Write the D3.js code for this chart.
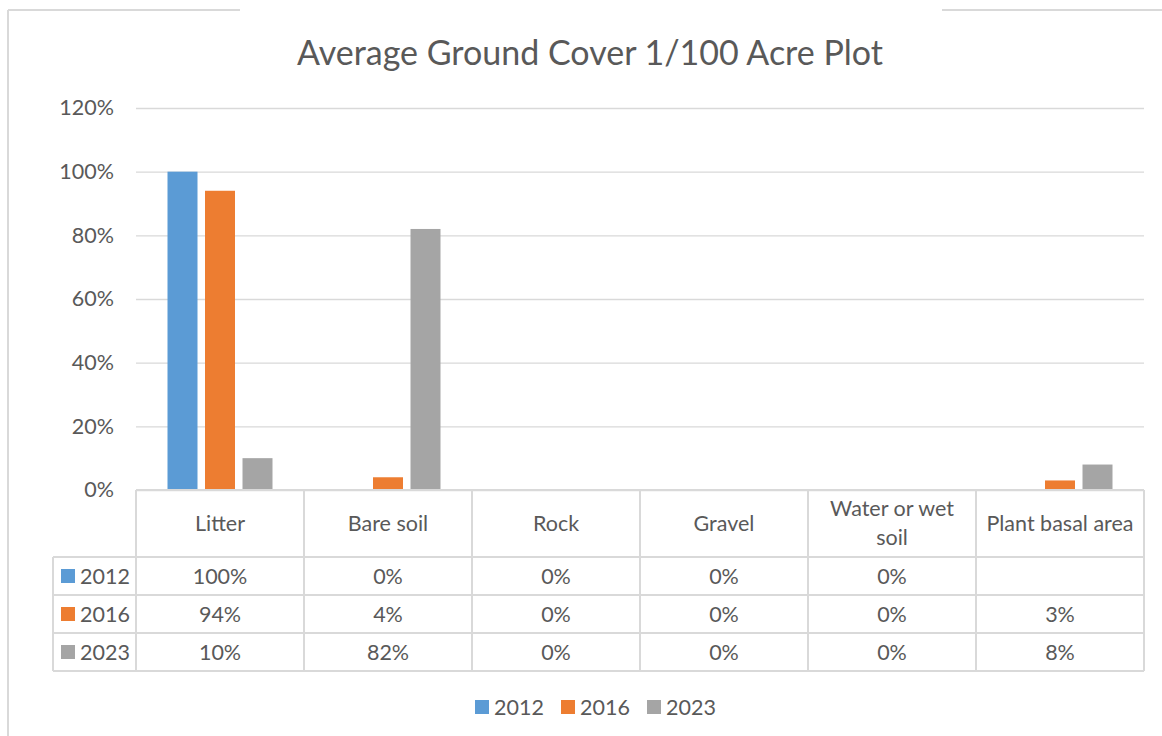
<!DOCTYPE html>
<html>
<head>
<meta charset="utf-8">
<script src="https://cdn.jsdelivr.net/npm/d3@7"></script>
<style>
  body { margin: 0; background: #fff; }
  svg { display: block; font-family: Lato, "Open Sans", sans-serif; }
</style>
</head>
<body>
<svg id="chart" width="1162" height="736"></svg>
<script>
// chart data
var categories = ["Litter", "Bare soil", "Rock", "Gravel", "Water or wet soil", "Plant basal area"];
var seriesNames = ["2012", "2016", "2023"];
var values2012 = [1.00, 0, 0, 0, 0, null];
var values2016 = [0.94, 0.04, 0, 0, 0, 0.03];
var values2023 = [0.10, 0.82, 0, 0, 0, 0.08];
var yTicks = [0, 0.2, 0.4, 0.6, 0.8, 1.0, 1.2];

var series = [values2012, values2016, values2023];
var colors = ["#5B9BD5", "#ED7D31", "#A5A5A5"];
var textColor = "#595959", lineColor = "#d9d9d9";
var fs = "21.5px";

var svg = d3.select("#chart");

// frame of the chart box (top line broken where the caption sits)
var frame = svg.append("g").attr("stroke", lineColor).attr("stroke-width", 2);
frame.append("line").attr("x1", 8).attr("y1", 10).attr("x2", 8).attr("y2", 736);
frame.append("line").attr("x1", 8).attr("y1", 10).attr("x2", 240).attr("y2", 10);
frame.append("line").attr("x1", 942).attr("y1", 10).attr("x2", 1162).attr("y2", 10);

svg.append("text")
  .attr("x", 590).attr("y", 65)
  .attr("text-anchor", "middle")
  .attr("fill", textColor)
  .style("font-size", "34px")
  .text("Average Ground Cover 1/100 Acre Plot");

var x = d3.scaleBand().domain(categories).range([136, 1144]);
var y = d3.scaleLinear().domain([0, 1.2]).range([490, 108]);
var inner = d3.scaleBand().domain(seriesNames).range([0, x.bandwidth()]).paddingInner(0.2).paddingOuter(0.84);

// gridlines + y labels
var yAxis = d3.axisLeft(y).tickValues(yTicks).tickFormat(d3.format(".0%")).tickSize(-(1144 - 136)).tickPadding(22);
var ga = svg.append("g").attr("transform", "translate(136,0)").call(yAxis);
ga.select(".domain").remove();
ga.selectAll(".tick line").attr("stroke", lineColor).attr("stroke-width", 1.3);
ga.selectAll(".tick text").attr("fill", textColor).style("font-size", fs).style("font-family", "Lato, sans-serif");

// bars
series.forEach(function(vals, si) {
  svg.append("g").selectAll("rect")
    .data(vals.map(function(v, i) { return { cat: categories[i], v: v }; }).filter(function(d) { return d.v; }))
    .enter().append("rect")
    .attr("x", function(d) { return x(d.cat) + inner(seriesNames[si]); })
    .attr("width", inner.bandwidth())
    .attr("y", function(d) { return y(d.v); })
    .attr("height", function(d) { return y(0) - y(d.v); })
    .attr("fill", colors[si]);
});

// data table
var rowTop = 557, rowH = 38, tableLeft = 53;
var tbl = svg.append("g").attr("stroke", lineColor).attr("stroke-width", 2).attr("fill", "none");
x.domain().forEach(function(c) {
  tbl.append("line").attr("x1", x(c)).attr("x2", x(c)).attr("y1", 490).attr("y2", rowTop + rowH * 3);
});
tbl.append("line").attr("x1", 1144).attr("x2", 1144).attr("y1", 490).attr("y2", rowTop + rowH * 3);
tbl.append("line").attr("x1", 136).attr("x2", 1144).attr("y1", 490).attr("y2", 490);
tbl.append("line").attr("x1", tableLeft).attr("x2", tableLeft).attr("y1", rowTop).attr("y2", rowTop + rowH * 3);
for (var r = 0; r <= 3; r++) {
  tbl.append("line").attr("x1", tableLeft).attr("x2", 1144).attr("y1", rowTop + rowH * r).attr("y2", rowTop + rowH * r);
}

// header labels
svg.append("g").selectAll("text")
  .data(categories).enter().append("text")
  .attr("text-anchor", "middle")
  .attr("fill", textColor)
  .style("font-size", fs)
  .attr("x", function(d) { return x(d) + x.bandwidth() / 2; })
  .attr("y", 531)
  .each(function(d) {
    var t = d3.select(this);
    if (d === "Water or wet soil") {
      t.append("tspan").attr("x", x(d) + x.bandwidth() / 2).attr("y", 516).text("Water or wet");
      t.append("tspan").attr("x", x(d) + x.bandwidth() / 2).attr("y", 545).text("soil");
    } else {
      t.text(d);
    }
  });

var fmt = d3.format(".0%");
series.forEach(function(vals, si) {
  var cy = rowTop + rowH * si + rowH / 2 + 7.5;
  svg.append("rect").attr("x", 61).attr("y", cy - 14.5).attr("width", 14).attr("height", 14).attr("fill", colors[si]);
  svg.append("text").attr("x", 80).attr("y", cy).attr("fill", textColor).style("font-size", fs).text(seriesNames[si]);
  svg.append("g").selectAll("text")
    .data(vals.map(function(v, i) { return { cat: categories[i], v: v }; }))
    .enter().append("text")
    .attr("text-anchor", "middle")
    .attr("fill", textColor)
    .style("font-size", fs)
    .attr("x", function(d) { return x(d.cat) + x.bandwidth() / 2; })
    .attr("y", cy)
    .text(function(d) { return d.v == null ? "" : fmt(d.v); });
});

// bottom legend
var legendX = [475, 561, 647];
seriesNames.forEach(function(s, i) {
  svg.append("rect").attr("x", legendX[i]).attr("y", 700).attr("width", 14).attr("height", 14).attr("fill", colors[i]);
  svg.append("text").attr("x", legendX[i] + 19).attr("y", 715).attr("fill", textColor).style("font-size", fs).text(s);
});
</script>
</body>
</html>
